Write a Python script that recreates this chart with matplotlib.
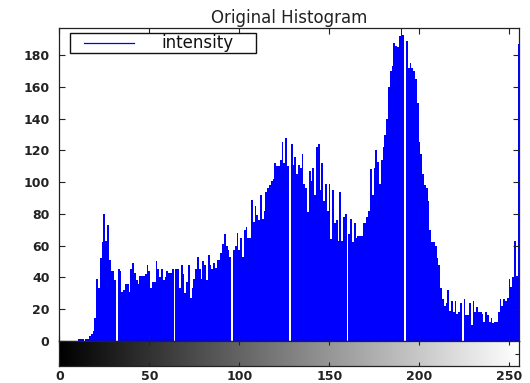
import numpy as np
import matplotlib
matplotlib.use("Agg")
import matplotlib.pyplot as plt
from matplotlib.patches import Rectangle
from matplotlib.lines import Line2D

# ---- data: histogram counts for intensity levels 0..255 ----
counts = [
    0, 0, 0, 0, 0, 0, 0, 0, 0, 0,
    0, 1, 1, 1, 0, 1, 1, 3, 4, 6,
    14, 39, 33, 52, 62, 80, 63, 73, 51, 44,
    44, 38, 0, 45, 44, 31, 32, 36, 36, 31,
    45, 49, 43, 38, 36, 41, 41, 41, 42, 48,
    44, 33, 37, 37, 50, 45, 40, 45, 38, 40,
    44, 43, 43, 45, 0, 45, 45, 33, 48, 42,
    30, 37, 48, 27, 33, 39, 45, 53, 45, 39,
    50, 48, 38, 54, 48, 45, 49, 46, 51, 51,
    55, 61, 67, 60, 57, 53, 0, 57, 60, 68,
    57, 65, 53, 70, 72, 65, 65, 89, 75, 85,
    79, 76, 92, 77, 82, 94, 96, 98, 101, 102,
    112, 110, 110, 114, 125, 112, 128, 110, 0, 124,
    111, 116, 105, 111, 109, 118, 99, 96, 81, 107,
    101, 109, 92, 122, 124, 95, 112, 88, 99, 82,
    99, 64, 95, 74, 76, 63, 94, 63, 78, 80,
    0, 67, 77, 62, 74, 65, 66, 66, 66, 74,
    74, 78, 82, 108, 92, 109, 120, 113, 99, 114,
    122, 130, 140, 160, 170, 173, 188, 186, 185, 192,
    198, 193, 0, 189, 172, 175, 172, 170, 165, 150,
    125, 118, 105, 98, 96, 88, 70, 62, 62, 60,
    52, 48, 33, 26, 22, 24, 32, 19, 25, 18,
    25, 17, 18, 24, 0, 26, 16, 16, 24, 10,
    25, 18, 21, 18, 18, 17, 12, 18, 16, 12,
    14, 11, 12, 12, 18, 26, 22, 26, 25, 27,
    39, 34, 40, 63, 41, 187,
]
levels = np.arange(len(counts))
xticks = [0, 50, 100, 150, 200, 250]
yticks = [0, 20, 40, 60, 80, 100, 120, 140, 160, 180]
title = "Original Histogram"
legend_label = "intensity"

W, H = 530, 383
fig = plt.figure(figsize=(W / 100, H / 100), dpi=100)

def fx(px):
    return px / W

def fy(py):
    return 1 - py / H

left, right, top, bottom = 59.3, 518.5, 28.3, 340.7
ax = fig.add_axes([fx(left), fy(bottom), fx(right - left), (bottom - top) / H])
ax.bar(levels, counts, width=1.0, color="#0000ff", linewidth=0, label=legend_label)
ax.set_xlim(0, 255)
ax.set_ylim(0, 197)
ax.set_xticks(xticks)
ax.set_xticklabels([])
ax.set_yticks(yticks)
ax.tick_params(axis="both", direction="in", length=4, width=0.8, color="#222222",
               top=True, right=True, bottom=True)
ax.tick_params(axis="y", labelsize=9, pad=7)
for lbl in ax.get_yticklabels():
    lbl.set_fontweight("bold")
    lbl.set_color("#222222")
for s in ax.spines.values():
    s.set_color("#222222")
    s.set_linewidth(0.9)
ax.set_title(title, fontsize=12, color="#222222", pad=4)

# ---- legend box (drawn in figure pixel coordinates) ----
lx0, lx1, ly0, ly1 = 70, 256, 33, 53
fig.patches.append(Rectangle((fx(lx0), fy(ly1)), fx(lx1 - lx0), (ly1 - ly0) / H,
                             transform=fig.transFigure, facecolor="white",
                             edgecolor="#111111", linewidth=1.0, zorder=5))
fig.lines.append(Line2D([fx(84), fx(134)], [fy(43), fy(43)], transform=fig.transFigure,
                        color="#0000ff", linewidth=0.9, zorder=6))
fig.text(fx(161), fy(43.5), legend_label, fontsize=12, color="#111111",
         va="center", ha="left", zorder=6)

# ---- grayscale colorbar below ----
cb_top, cb_bot = 341.0, 366.3
cax = fig.add_axes([fx(left), fy(cb_bot), fx(right - left), (cb_bot - cb_top) / H])
grad = np.linspace(0, 255, 256)[None, :]
cax.imshow(grad, cmap="gray", aspect="auto", extent=[0, 255, 0, 1], vmin=0, vmax=255)
cax.set_xlim(0, 255)
cax.set_ylim(0, 1)
cax.set_xticks(xticks)
cax.set_yticks([0.5])
cax.set_yticklabels([])
cax.tick_params(axis="both", direction="in", length=3, width=0.8, color="#222222",
                top=True, right=True, left=False)
cax.tick_params(axis="x", labelsize=9, pad=3)
for lbl in cax.get_xticklabels():
    lbl.set_fontweight("bold")
    lbl.set_color("#222222")
for s in cax.spines.values():
    s.set_color("#222222")
    s.set_linewidth(0.9)

fig.savefig("out.png", dpi=100)
